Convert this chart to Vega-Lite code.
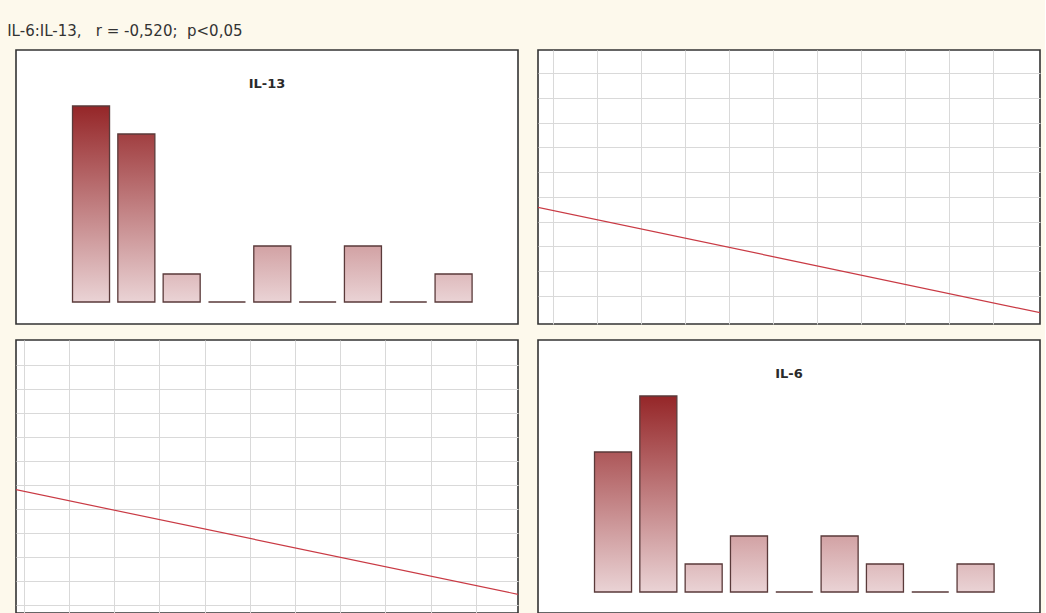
{
  "$schema": "https://vega.github.io/schema/vega-lite/v6.json",
  "background": "#fdf9ec",
  "padding": {"left": 7, "top": 24, "right": 4, "bottom": 0},
  "title": {
    "text": "IL-6:IL-13,\u00a0\u00a0 r = -0,520;\u00a0 p<0,05",
    "anchor": "start",
    "frame": "bounds",
    "dx": -8,
    "offset": 10,
    "font": "DejaVu Sans",
    "fontSize": 15,
    "fontWeight": "normal",
    "color": "#333333"
  },
  "columns": 2,
  "spacing": {"row": 14, "column": 18},
  "concat": [
    {
      "width": 502,
      "height": 274,
      "title": {"text": "IL-13", "anchor": "middle", "frame": "group", "offset": -51, "baseline": "alphabetic", "font": "DejaVu Sans", "fontSize": 13, "fontWeight": "bold", "color": "#2a2a2a"},
      "data": {"values": [
        {"bin": 1, "n": 7}, {"bin": 2, "n": 6}, {"bin": 3, "n": 1},
        {"bin": 4, "n": 0}, {"bin": 5, "n": 2}, {"bin": 6, "n": 0},
        {"bin": 7, "n": 2}, {"bin": 8, "n": 0}, {"bin": 9, "n": 1}
      ]},
      "mark": {"type": "bar", "stroke": "#5a3a3a", "strokeWidth": 1.3},
      "encoding": {
        "x": {"field": "bin", "type": "ordinal", "axis": null, "scale": {"domain": [0, 1, 2, 3, 4, 5, 6, 7, 8, 9, 10], "paddingInner": 0.183, "paddingOuter": 0.13, "align": 0.95}},
        "y": {"field": "n", "type": "quantitative", "axis": null, "scale": {"domain": [-0.786, 9], "nice": false}},
        "fill": {
          "condition": [
            {"test": "datum.n == 7", "value": {"gradient": "linear", "x1": 0, "y1": 0, "x2": 0, "y2": 1, "stops": [{"offset": 0, "color": "#952628"}, {"offset": 1, "color": "#ead3d5"}]}},
            {"test": "datum.n == 6", "value": {"gradient": "linear", "x1": 0, "y1": 0, "x2": 0, "y2": 1, "stops": [{"offset": 0, "color": "#a13f41"}, {"offset": 1, "color": "#ead3d5"}]}},
            {"test": "datum.n == 5", "value": {"gradient": "linear", "x1": 0, "y1": 0, "x2": 0, "y2": 1, "stops": [{"offset": 0, "color": "#ad5759"}, {"offset": 1, "color": "#ead3d5"}]}},
            {"test": "datum.n == 2", "value": {"gradient": "linear", "x1": 0, "y1": 0, "x2": 0, "y2": 1, "stops": [{"offset": 0, "color": "#d2a2a4"}, {"offset": 1, "color": "#ead3d5"}]}}
          ],
          "value": {"gradient": "linear", "x1": 0, "y1": 0, "x2": 0, "y2": 1, "stops": [{"offset": 0, "color": "#debabc"}, {"offset": 1, "color": "#ead3d5"}]}
        }
      }
    },
    {
      "width": 502,
      "height": 274,
      "data": {"values": [{"il6": -1, "il13": 4.821}, {"il6": 12, "il13": -0.035}]},
      "mark": {"type": "line", "clip": true, "color": "#c93a44", "strokeWidth": 1.2},
      "encoding": {
        "x": {"field": "il6", "type": "quantitative", "scale": {"domain": [-0.348, 11.07], "nice": false, "zero": false}, "axis": {"values": [0, 1, 2, 3, 4, 5, 6, 7, 8, 9, 10], "grid": true, "domain": false, "ticks": false, "labels": false, "title": null}},
        "y": {"field": "il13", "type": "quantitative", "scale": {"domain": [-0.146, 10.943], "nice": false, "zero": false}, "axis": {"values": [1, 2, 3, 4, 5, 6, 7, 8, 9, 10], "grid": true, "domain": false, "ticks": false, "labels": false, "title": null}}
      }
    },
    {
      "width": 502,
      "height": 273,
      "data": {"values": [{"il13": -1, "il6": 5.144}, {"il13": 12, "il6": 0.037}]},
      "mark": {"type": "line", "clip": true, "color": "#c93a44", "strokeWidth": 1.2},
      "encoding": {
        "x": {"field": "il13", "type": "quantitative", "scale": {"domain": [-0.168, 10.929], "nice": false, "zero": false}, "axis": {"values": [0, 1, 2, 3, 4, 5, 6, 7, 8, 9, 10], "grid": true, "domain": false, "ticks": false, "labels": false, "title": null}},
        "y": {"field": "il6", "type": "quantitative", "scale": {"domain": [-0.32, 11.054], "nice": false, "zero": false}, "axis": {"values": [0, 1, 2, 3, 4, 5, 6, 7, 8, 9, 10], "grid": true, "domain": false, "ticks": false, "labels": false, "title": null}}
      }
    },
    {
      "width": 502,
      "height": 273,
      "title": {"text": "IL-6", "anchor": "middle", "frame": "group", "offset": -51, "baseline": "alphabetic", "font": "DejaVu Sans", "fontSize": 13, "fontWeight": "bold", "color": "#2a2a2a"},
      "data": {"values": [
        {"bin": 1, "n": 5}, {"bin": 2, "n": 7}, {"bin": 3, "n": 1},
        {"bin": 4, "n": 2}, {"bin": 5, "n": 0}, {"bin": 6, "n": 2},
        {"bin": 7, "n": 1}, {"bin": 8, "n": 0}, {"bin": 9, "n": 1}
      ]},
      "mark": {"type": "bar", "stroke": "#5a3a3a", "strokeWidth": 1.3},
      "encoding": {
        "x": {"field": "bin", "type": "ordinal", "axis": null, "scale": {"domain": [0, 1, 2, 3, 4, 5, 6, 7, 8, 9, 10], "paddingInner": 0.183, "paddingOuter": 0.13, "align": 0.95}},
        "y": {"field": "n", "type": "quantitative", "axis": null, "scale": {"domain": [-0.75, 9], "nice": false}},
        "fill": {
          "condition": [
            {"test": "datum.n == 7", "value": {"gradient": "linear", "x1": 0, "y1": 0, "x2": 0, "y2": 1, "stops": [{"offset": 0, "color": "#952628"}, {"offset": 1, "color": "#ead3d5"}]}},
            {"test": "datum.n == 6", "value": {"gradient": "linear", "x1": 0, "y1": 0, "x2": 0, "y2": 1, "stops": [{"offset": 0, "color": "#a13f41"}, {"offset": 1, "color": "#ead3d5"}]}},
            {"test": "datum.n == 5", "value": {"gradient": "linear", "x1": 0, "y1": 0, "x2": 0, "y2": 1, "stops": [{"offset": 0, "color": "#ad5759"}, {"offset": 1, "color": "#ead3d5"}]}},
            {"test": "datum.n == 2", "value": {"gradient": "linear", "x1": 0, "y1": 0, "x2": 0, "y2": 1, "stops": [{"offset": 0, "color": "#d2a2a4"}, {"offset": 1, "color": "#ead3d5"}]}}
          ],
          "value": {"gradient": "linear", "x1": 0, "y1": 0, "x2": 0, "y2": 1, "stops": [{"offset": 0, "color": "#debabc"}, {"offset": 1, "color": "#ead3d5"}]}
        }
      }
    }
  ],
  "config": {
    "view": {"stroke": "#333333", "strokeWidth": 1.6, "fill": "#ffffff"},
    "axis": {"gridColor": "#d9d9d9", "gridWidth": 1, "gridOpacity": 1}
  }
}
